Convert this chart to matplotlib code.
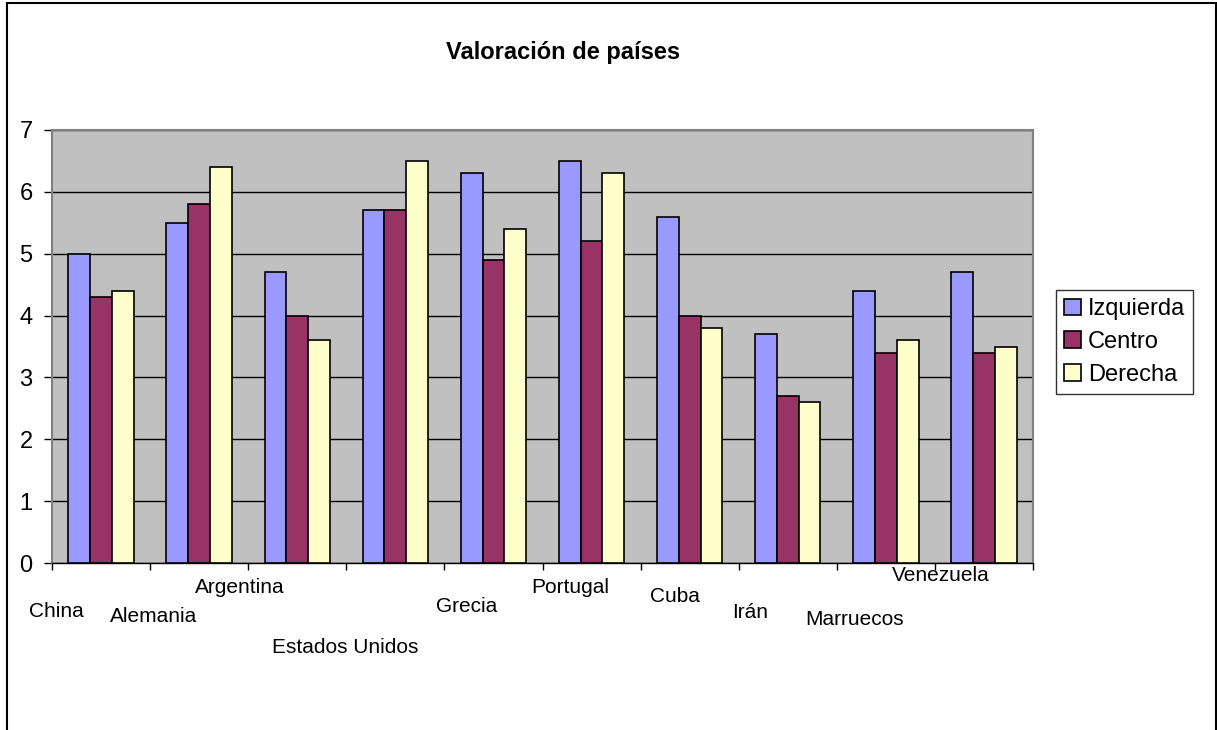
import matplotlib.pyplot as plt
import matplotlib
import numpy as np
from matplotlib.patches import Rectangle

matplotlib.rcParams['font.family'] = ['Liberation Sans', 'DejaVu Sans']

paises = ['China', 'Alemania', 'Argentina', 'Estados Unidos', 'Grecia',
          'Portugal', 'Cuba', 'Irán', 'Marruecos', 'Venezuela']
izquierda = [5.0, 5.5, 4.7, 5.7, 6.3, 6.5, 5.6, 3.7, 4.4, 4.7]
centro = [4.3, 5.8, 4.0, 5.7, 4.9, 5.2, 4.0, 2.7, 3.4, 3.4]
derecha = [4.4, 6.4, 3.6, 6.5, 5.4, 6.3, 3.8, 2.6, 3.6, 3.5]
series = ['Izquierda', 'Centro', 'Derecha']
colores = ['#9999FF', '#993366', '#FFFFCC']

# where the category labels sit in the original (pixel centre x, baseline y)
lab_x = [56, 154, 240, 345, 467, 570, 675, 750, 855, 941]
lab_y = [617, 622, 593, 653, 612, 593, 602, 618, 625, 581]

W, H = 1217, 730
fig = plt.figure(figsize=(W/100, H/100), dpi=100)
ax = fig.add_axes([52/W, 1-563/H, (1033-52)/W, (563-130)/H])
ax.set_facecolor('#C0C0C0')

x = np.arange(len(paises))
bw = 1/4.5
for i, (vals, c) in enumerate(zip([izquierda, centro, derecha], colores)):
    ax.bar(x + (i-1)*bw, vals, bw, color=c, edgecolor='black', linewidth=1.2,
           label=series[i], zorder=3)

ax.set_xlim(-0.5, len(paises)-0.5)
ax.set_ylim(0, 7)
ax.set_yticks(range(8))
ax.yaxis.grid(True, color='black', linewidth=1, zorder=1)
ax.set_axisbelow(True)
ax.tick_params(axis='y', labelsize=17, length=6, width=1, pad=8, colors='black')
ax.set_xticks(np.arange(len(paises)+1) - 0.5)
ax.set_xticklabels([])
ax.tick_params(axis='x', length=5, width=1)
for s in ax.spines.values():
    s.set_color('#808080')
    s.set_linewidth(1.5)
ax.spines['bottom'].set_color('black')
ax.spines['bottom'].set_linewidth(1)

for name, px, py in zip(paises, lab_x, lab_y):
    fig.text(px/W, 1-py/H, name, ha='center', va='baseline', fontsize=15)

fig.text(563/W, 1-53/H, 'Valoración de países', ha='center', va='center',
         fontsize=17, fontweight='bold')

leg = fig.legend(loc='upper left', bbox_to_anchor=(1056/W, 1-290/H),
                 fontsize=17, frameon=True, fancybox=False, handlelength=0.7,
                 handleheight=0.7, handletextpad=0.3, labelspacing=0.45,
                 borderpad=0.35, borderaxespad=0)
leg.get_frame().set_edgecolor('black')
leg.get_frame().set_linewidth(1)

fig.patches.append(Rectangle((7/W, -0.1), (1216-7)/W, 1.1-3/H, transform=fig.transFigure,
                             fill=False, edgecolor='black', linewidth=1.5))

plt.savefig('out.png', dpi=100)
